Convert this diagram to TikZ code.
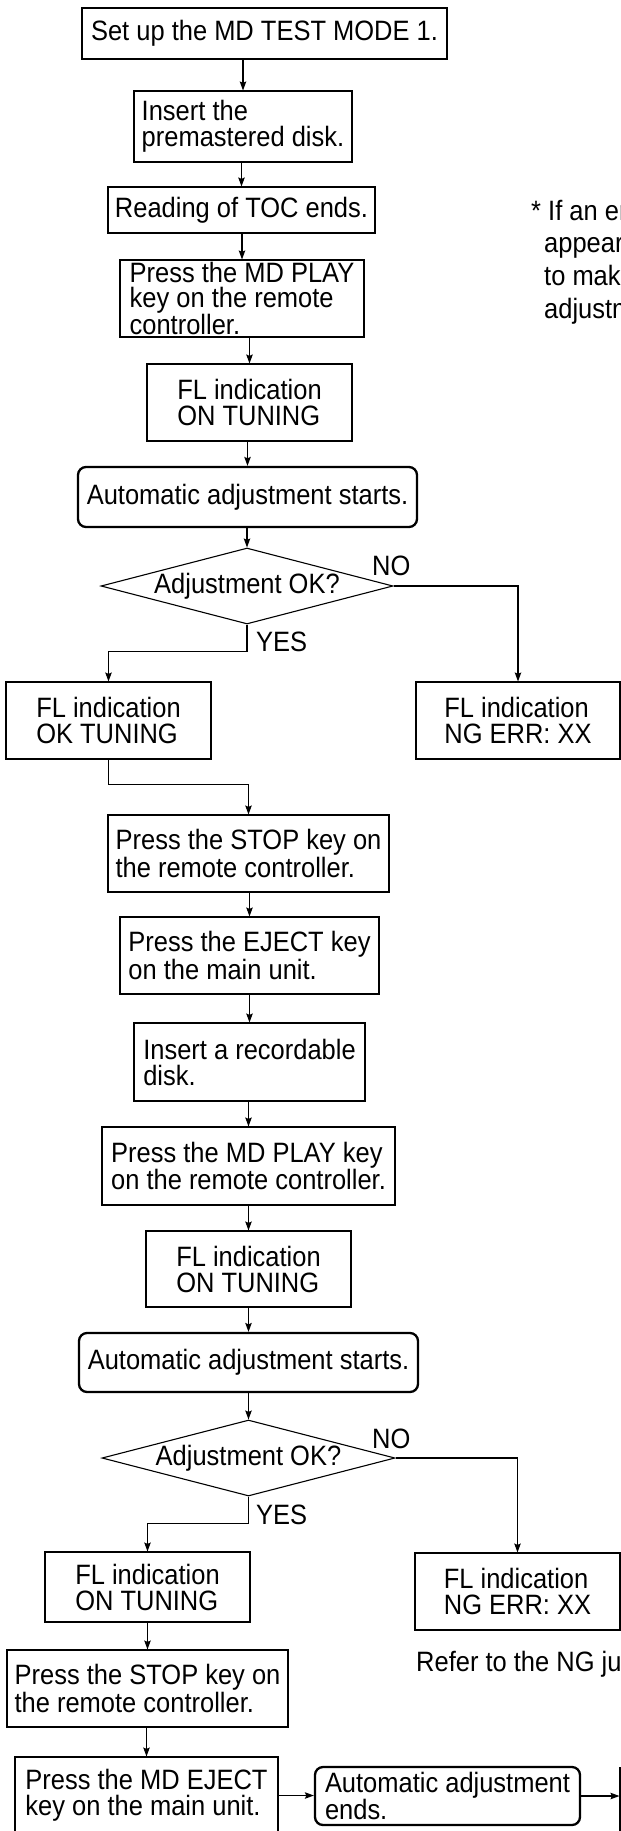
\documentclass[tikz,border=0pt]{standalone}
\usepackage{fontspec}
\setmainfont{Liberation Sans}[FakeStretch=0.91]
\usetikzlibrary{shapes.geometric,arrows.meta}

\begin{document}
\begin{tikzpicture}[x=1pt,y=-1pt,
  font=\fontsize{28}{26}\selectfont,
  box/.style={draw,line width=1.1pt,align=left,inner sep=1pt},
  bigbox/.style={box,line width=2.3pt},
  roundbox/.style={box,line width=2.3pt,rounded corners=8pt},
  decide/.style={draw,line width=1.1pt,diamond,aspect=3.84,inner sep=0pt},
  lbl/.style={inner sep=0pt,anchor=west,align=left},
  wire/.style={line width=1.1pt},
  arr/.style={wire,-{Stealth[length=9pt,width=6.5pt,inset=1.5pt]}}]
% Page frame
\useasboundingbox (0,0) rectangle (621,1831);
\clip (0,0) rectangle (621,1831);

% Premastered disk
\node[bigbox,minimum width=365pt,minimum height=51pt] (setup) at (264.5,33.5) {Set up the MD TEST MODE 1.};
\node[box,minimum width=218pt,minimum height=71pt] (insert) at (243,126.5) {Insert the\\premastered disk.};
\node[box,minimum width=267pt,minimum height=46pt] (toc) at (241.5,210) {Reading of TOC ends.};
\node[box,minimum width=244pt,minimum height=77pt,inner sep=0pt,font=\fontsize{28}{24.5}\selectfont] (play) at (242,298.5) {Press the MD PLAY\\key on the remote\\controller.};
\node[box,minimum width=205pt,minimum height=77pt] (fla) at (249.5,402.5) {FL indication\\ON TUNING};
\node[roundbox,minimum width=339pt,minimum height=60pt] (autoa) at (247.5,497) {Automatic adjustment starts.};
\node[decide,minimum width=292pt,minimum height=76pt] (checka) at (247,586) {Adjustment OK?};
\node[box,minimum width=205pt,minimum height=77pt] (oka) at (108.5,720.5) {FL indication\\OK TUNING};
\node[box,minimum width=204pt,minimum height=77pt] (nga) at (518,720.5) {FL indication\\NG ERR: XX};
\node[lbl] (noa) at (372,566) {NO};
\node[lbl] (yesa) at (256,642) {YES};

% Recordable disk
\node[box,minimum width=281pt,minimum height=77pt] (stopa) at (248.5,853.5) {Press the STOP key on\\the remote controller.};
\node[box,minimum width=259pt,minimum height=77pt] (ejecta) at (249.5,955.5) {Press the EJECT key\\on the main unit.};
\node[box,minimum width=231pt,minimum height=78pt] (recdisk) at (249.5,1062) {Insert a recordable\\disk.};
\node[box,minimum width=293pt,minimum height=78pt] (playb) at (248.5,1166) {Press the MD PLAY key\\on the remote controller.};
\node[box,minimum width=205pt,minimum height=76pt] (flb) at (248.5,1269) {FL indication\\ON TUNING};
\node[roundbox,minimum width=339pt,minimum height=59pt] (autob) at (248.5,1362.5) {Automatic adjustment starts.};
\node[decide,minimum width=293pt,minimum height=76pt] (checkb) at (248.5,1458) {Adjustment OK?};
\node[box,minimum width=205pt,minimum height=70pt] (okb) at (147.5,1587) {FL indication\\ON TUNING};
\node[box,minimum width=205pt,minimum height=77pt] (ngb) at (517.5,1591.5) {FL indication\\NG ERR: XX};
\node[lbl] (nob) at (372,1439) {NO};
\node[lbl] (yesb) at (256,1515) {YES};
\node[lbl] (refer) at (416,1664.5) {Refer to the NG judgment};
\node[box,minimum width=281pt,minimum height=77pt] (stopb) at (147.5,1688.5) {Press the STOP key on\\the remote controller.};
\node[box,minimum width=263pt,minimum height=77pt] (ejectb) at (146.5,1795.5) {Press the MD EJECT\\key on the main unit.};
\node[roundbox,minimum width=265pt,minimum height=58pt] (autoend) at (447.5,1796) {Automatic adjustment\\ends.};
\node[box,minimum width=160pt,minimum height=84pt] (nextstep) at (700,1810) {};

% Note
\node[lbl,font=\fontsize{28}{32.7}\selectfont] (note) at (531,262) {* If an error\\\hspace*{13pt}appears\\\hspace*{13pt}to make\\\hspace*{13pt}adjustment};

% Arrows, first part
\draw[arr] (setup.south -| insert.north) -- (insert.north);
\draw[arr] (insert.south -| toc.north) -- (toc.north);
\draw[arr] (toc.south -| play.north) -- (play.north);
\draw[arr] (play.south -| fla.north) -- (fla.north);
\draw[arr] (fla.south -| autoa.north) -- (autoa.north);
\draw[arr] (autoa.south -| checka.north) -- (checka.north);
\draw[arr] (checka.east) -| (nga.north);
\draw[arr] (checka.south) -- ++(0,27) -| (oka.north);
\draw[arr] (oka.south) -- ++(0,25) -| (stopa.north);

% Arrows, second part
\draw[arr] (stopa.south -| ejecta.north) -- (ejecta.north);
\draw[arr] (ejecta.south -| recdisk.north) -- (recdisk.north);
\draw[arr] (recdisk.south -| playb.north) -- (playb.north);
\draw[arr] (playb.south -| flb.north) -- (flb.north);
\draw[arr] (flb.south -| autob.north) -- (autob.north);
\draw[arr] (autob.south -| checkb.north) -- (checkb.north);
\draw[arr] (checkb.east) -| (ngb.north);
\draw[arr] (checkb.south) -- ++(0,27) -| (okb.north);
\draw[arr] (okb.south -| stopb.north) -- (stopb.north);
\draw[arr] (stopb.south -| ejectb.north) -- (ejectb.north);
\draw[arr] (ejectb.east) -- (ejectb.east -| autoend.west);
\draw[arr] (autoend.east) -- (autoend.east -| nextstep.west);
\end{tikzpicture}
\end{document}
